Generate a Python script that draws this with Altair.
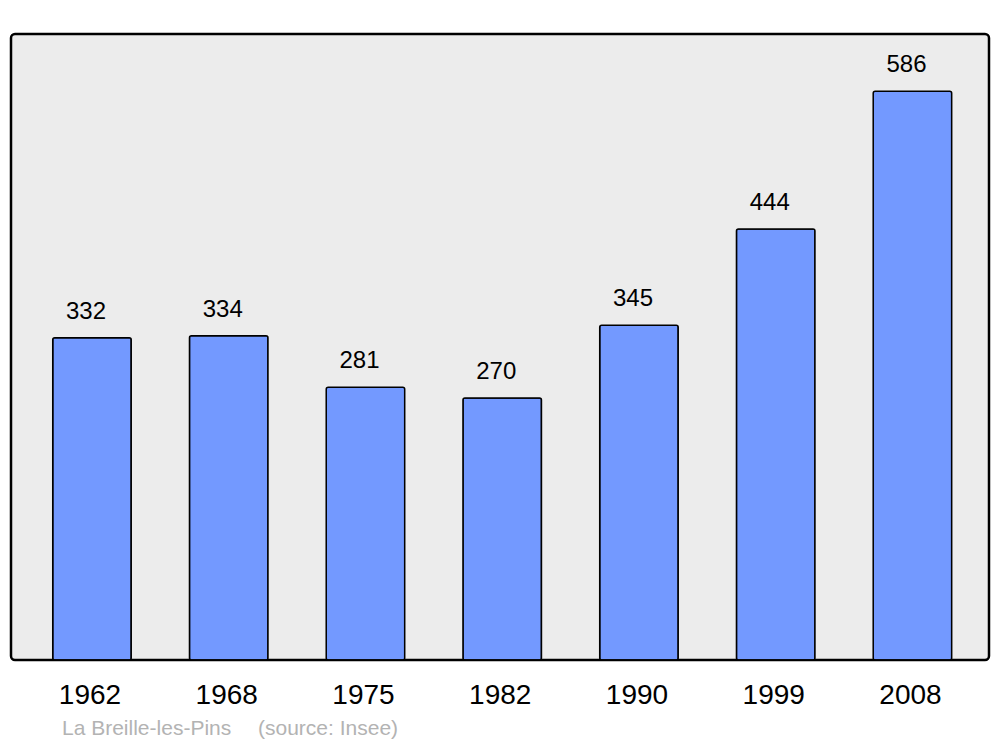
import altair as alt
import pandas as pd

years = ["1962", "1968", "1975", "1982", "1990", "1999", "2008"]
population = [332, 334, 281, 270, 345, 444, 586]
place = "La Breille-les-Pins"
source = "(source: Insee)"

df = pd.DataFrame({"year": years, "pop": population})

x = alt.X("year:N", sort=years, title=None,
          scale=alt.Scale(paddingInner=0.426, paddingOuter=0.289, align=0.528),
          axis=alt.Axis(domain=False, ticks=False, labelAngle=0, labelFontSize=28,
                        labelFont="Liberation Sans", labelColor="black", labelPadding=21,
                        labelOffset=-2))
y = alt.Y("pop:Q", scale=alt.Scale(domain=[0, 645], nice=False, zero=True), axis=None)

base = alt.Chart(df)

bars = base.mark_bar(color="#7399ff", stroke="black", strokeWidth=1.5, cornerRadius=2).encode(x=x, y=y)

labels = base.mark_text(baseline="alphabetic", dy=-19, dx=-6, fontSize=24,
                        font="Liberation Sans", color="black").encode(
    x=x, y=y, text="pop:Q")

src1 = alt.Chart(pd.DataFrame({"t": [place]})).mark_text(
    align="left", baseline="alphabetic", fontSize=21, font="Liberation Sans", color="#b3b3b3"
).encode(x=alt.value(51), y=alt.value(701), text="t:N")

src2 = alt.Chart(pd.DataFrame({"t": [source]})).mark_text(
    align="left", baseline="alphabetic", fontSize=21, font="Liberation Sans", color="#b3b3b3"
).encode(x=alt.value(247), y=alt.value(701), text="t:N")

chart = alt.layer(bars, labels, src1, src2).properties(
    width=978, height=626,
    autosize=alt.AutoSizeParams(type="none"),
    padding={"left": 3, "top": 26, "right": 3, "bottom": 81},
    view=alt.ViewBackground(fill="#ececec", stroke="black", strokeWidth=2.5, cornerRadius=4),
).configure_view(
    fill="#ececec", stroke="black", strokeWidth=2.5, cornerRadius=4
).configure(background="white")

chart.save("out.html", embed_options={"renderer": "svg", "actions": False})
